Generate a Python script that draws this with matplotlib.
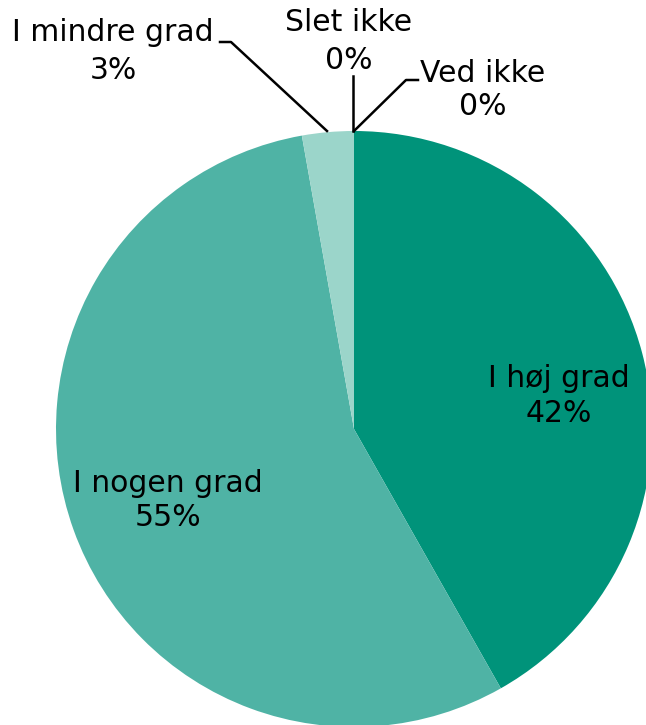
import matplotlib
matplotlib.use('Agg')
from matplotlib import pyplot as plt

# data
labels = ["I høj grad", "I nogen grad", "I mindre grad", "Slet ikke", "Ved ikke"]
values = [41.8, 55.4, 2.8, 0.0, 0.0]
shown = ["42%", "55%", "3%", "0%", "0%"]
colors = ["#00937A", "#4FB3A5", "#9BD5CA", "#C8E8E2", "#E0F2EE"]

W, H = 646, 725
cx, cy, r = 354, 429, 298


def Y(py):
    # pixel row (from top) -> data y
    return H - py


fig = plt.figure(figsize=(W / 100, H / 100), dpi=100)
ax = fig.add_axes([0, 0, 1, 1])

ax.pie(values, colors=colors, startangle=90, counterclock=False,
       center=(cx, Y(cy)), radius=r, wedgeprops=dict(linewidth=0))
ax.set_xlim(0, W)
ax.set_ylim(0, H)
ax.set_aspect('equal')
ax.axis('off')

fs = 21.5
txt = dict(fontsize=fs, ha='center', va='center', color='black', family='DejaVu Sans')

# inside labels
ax.text(559, Y(378), labels[0], **txt)
ax.text(559, Y(413), shown[0], **txt)
ax.text(168, Y(483), labels[1], **txt)
ax.text(168, Y(518), shown[1], **txt)

# outside labels with leader lines
ax.text(113, Y(32), labels[2], **txt)
ax.text(113, Y(70), shown[2], **txt)
ax.plot([220, 231, 327], [Y(42), Y(42), Y(131)], color='black', lw=1.8)

ax.text(349, Y(22), labels[3], **txt)
ax.text(349, Y(60), shown[3], **txt)
ax.plot([353, 353], [Y(76), Y(131)], color='black', lw=1.8)

ax.text(483, Y(73), labels[4], **txt)
ax.text(483, Y(106), shown[4], **txt)
ax.plot([418, 406, 354], [Y(80), Y(80), Y(131)], color='black', lw=1.8)

fig.savefig('out.png', dpi=100)
